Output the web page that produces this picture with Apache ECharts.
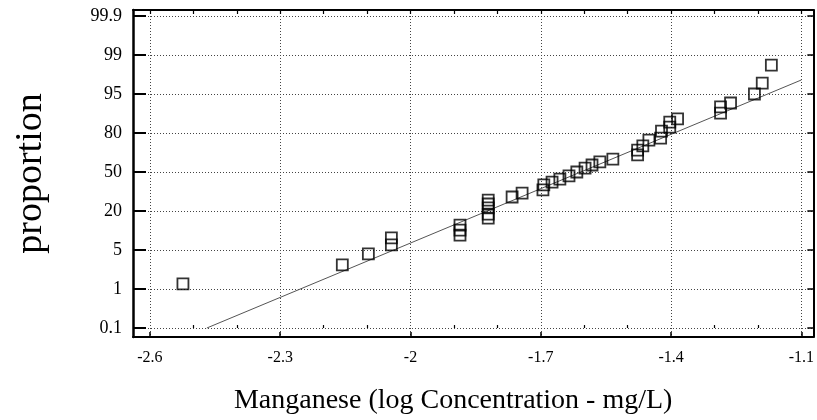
<!DOCTYPE html>
<html>
<head>
<meta charset="utf-8">
<script src="https://cdn.jsdelivr.net/npm/echarts@6/dist/echarts.min.js"></script>
<style>
  html, body { margin: 0; padding: 0; background: #fff; }
  #chart { width: 817px; height: 420px; }
</style>
</head>
<body>
<div id="chart"></div>
<script>
// Normal probability plot of manganese (log concentration, mg/L)

// x axis ticks (log concentration)
const xTicks = [-2.6, -2.3, -2.0, -1.7, -1.4, -1.1];
const xMinorTicks = [-2.5, -2.4, -2.2, -2.1, -1.9, -1.8, -1.6, -1.5, -1.3, -1.2];

// probability axis: labels sit at equally spaced positions 0..8
const probLabels = ['0.1', '1', '5', '20', '50', '80', '95', '99', '99.9'];
const probTickPos = [0, 1, 2, 3, 4, 5, 6, 7, 8];

// observations: log concentration and position on the probability scale
const logConc = [
  -2.524, -2.157, -2.097, -2.044, -2.044,
  -1.886, -1.886, -1.886,
  -1.821, -1.821, -1.821, -1.821, -1.821,
  -1.766, -1.743, -1.695, -1.693, -1.674, -1.656, -1.635,
  -1.617, -1.598, -1.582, -1.564, -1.534,
  -1.477, -1.477, -1.465, -1.451, -1.424, -1.422,
  -1.403, -1.403, -1.385,
  -1.286, -1.286, -1.263, -1.208, -1.190, -1.169
];
const probScale = [
  1.13, 1.62, 1.90, 2.13, 2.31,
  2.38, 2.51, 2.64,
  2.82, 2.92, 3.08, 3.18, 3.28,
  3.36, 3.46, 3.54, 3.67, 3.74, 3.82, 3.90,
  4.00, 4.10, 4.18, 4.26, 4.33,
  4.44, 4.56, 4.67, 4.82, 4.87, 5.05,
  5.15, 5.28, 5.36,
  5.51, 5.67, 5.77, 6.00, 6.28, 6.74
];

// fitted normal line (end points)
const fitX = [-2.469, -1.1];
const fitY = [0, 6.36];

const serif = 'Liberation Serif, Times New Roman, serif';
const X_MIN = -2.639, X_MAX = -1.0724;
const Y_MIN = -0.23, Y_MAX = 8.154;

const frameLine = { show: true, onZero: false, lineStyle: { color: '#000', width: 2 } };
const gridDots = { show: true, lineStyle: { color: '#444', width: 1, type: [1, 2] } };

const chart = echarts.init(document.getElementById('chart'), null, { renderer: 'canvas' });
chart.setOption({
  animation: false,
  backgroundColor: '#fff',
  grid: { left: 133, right: 2, top: 10, bottom: 83 },
  xAxis: [
    {
      type: 'value', position: 'bottom', min: X_MIN, max: X_MAX,
      axisLine: frameLine,
      axisTick: { show: true, inside: true, length: 5, customValues: xTicks,
                  lineStyle: { color: '#000', width: 1.5 } },
      axisLabel: { show: true, customValues: xTicks, margin: 13,
                   fontFamily: serif, fontSize: 16, color: '#000',
                   formatter: v => String(v) },
      splitLine: gridDots,
      name: 'Manganese (log Concentration - mg/L)',
      nameLocation: 'middle', nameGap: 50,
      nameTextStyle: { fontFamily: serif, fontSize: 28, color: '#000', padding: [0, 40, 0, 0] }
    },
    {
      type: 'value', position: 'top', min: X_MIN, max: X_MAX,
      axisLine: frameLine,
      axisTick: { show: true, inside: true, length: 4,
                  customValues: xTicks.concat(xMinorTicks),
                  lineStyle: { color: '#000', width: 1.2 } },
      axisLabel: { show: false },
      splitLine: { show: false }
    },
    {
      type: 'value', position: 'bottom', min: X_MIN, max: X_MAX,
      axisLine: { show: false },
      axisTick: { show: true, inside: true, length: 3, customValues: xMinorTicks,
                  lineStyle: { color: '#000', width: 1.2 } },
      axisLabel: { show: false },
      splitLine: { show: false }
    }
  ],
  yAxis: [
    {
      type: 'value', position: 'left', min: Y_MIN, max: Y_MAX,
      axisLine: { show: true, onZero: false, lineStyle: { color: '#000', width: 2.5 } },
      axisTick: { show: true, inside: true, length: 13, customValues: probTickPos,
                  lineStyle: { color: '#000', width: 2 } },
      axisLabel: { show: true, customValues: probTickPos, margin: 11,
                   fontFamily: serif, fontSize: 18, color: '#000',
                   formatter: v => probLabels[Math.round(v)] },
      splitLine: gridDots,
      name: 'proportion',
      nameLocation: 'middle', nameGap: 83, nameRotate: 90,
      nameTextStyle: { fontFamily: serif, fontSize: 38, color: '#000' }
    },
    {
      type: 'value', position: 'right', min: Y_MIN, max: Y_MAX,
      axisLine: frameLine,
      axisTick: { show: true, inside: true, length: 6, customValues: probTickPos,
                  lineStyle: { color: '#000', width: 1.5 } },
      axisLabel: { show: false },
      splitLine: { show: false }
    }
  ],
  series: [
    {
      type: 'line',
      xAxisIndex: 0, yAxisIndex: 0,
      data: fitX.map((x, i) => [x, fitY[i]]),
      symbol: 'none',
      lineStyle: { color: '#555', width: 1 },
      z: 2
    },
    {
      type: 'scatter',
      xAxisIndex: 0, yAxisIndex: 0,
      data: logConc.map((x, i) => [x, probScale[i]]),
      symbol: 'rect',
      symbolSize: 11,
      itemStyle: { color: 'rgba(0,0,0,0)', borderColor: '#000', borderWidth: 1.8 },
      z: 3
    }
  ]
});
</script>
</body>
</html>
